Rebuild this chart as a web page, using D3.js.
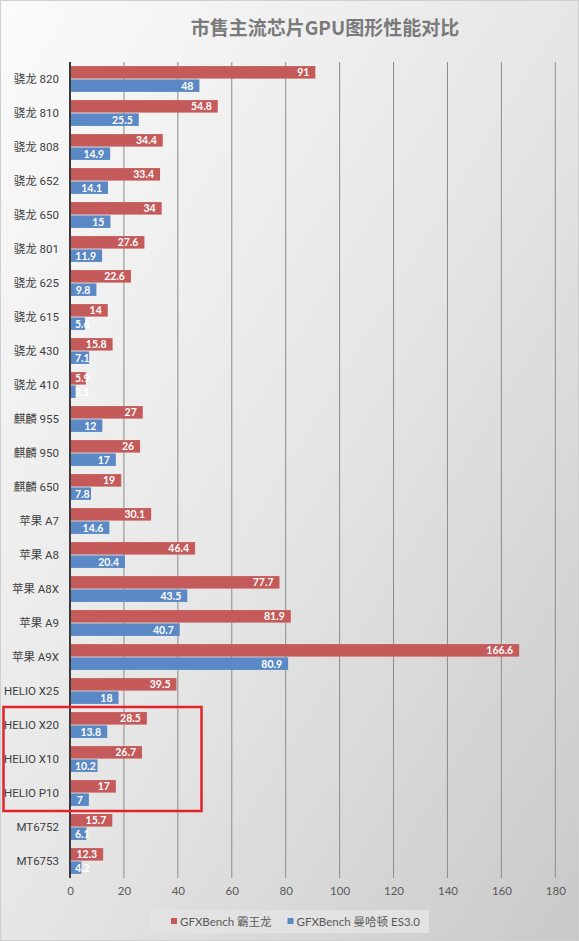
<!DOCTYPE html>
<html><head><meta charset="utf-8">
<script src="https://cdn.jsdelivr.net/npm/d3@7"></script>
<style>
html,body{margin:0;padding:0;background:#fff;}
svg{display:block;font-family:"Lato","Noto Sans CJK SC",sans-serif;}
</style></head>
<body><svg id="chart" width="579" height="941"></svg>
<script>
const title = "市售主流芯片GPU图形性能对比";
const categories = ["骁龙 820","骁龙 810","骁龙 808","骁龙 652","骁龙 650","骁龙 801","骁龙 625","骁龙 615","骁龙 430","骁龙 410","麒麟 955","麒麟 950","麒麟 650","苹果 A7","苹果 A8","苹果 A8X","苹果 A9","苹果 A9X","HELIO X25","HELIO X20","HELIO X10","HELIO P10","MT6752","MT6753"];
const trexValues = [91,54.8,34.4,33.4,34,27.6,22.6,14,15.8,5.9,27,26,19,30.1,46.4,77.7,81.9,166.6,39.5,28.5,26.7,17,15.7,12.3];
const manhattanValues = [48,25.5,14.9,14.1,15,11.9,9.8,5.6,7.1,2.1,12,17,7.8,14.6,20.4,43.5,40.7,80.9,18,13.8,10.2,7,6.1,4.2];
const seriesNames = ["GFXBench 霸王龙","GFXBench 曼哈顿 ES3.0"];
const xTicks = [0,20,40,60,80,100,120,140,160,180];
const highlighted = ["HELIO X20","HELIO X10","HELIO P10"];

const W = 579, H = 941;
const svg = d3.select("#chart");
const defs = svg.append("defs");
const grad = defs.append("linearGradient").attr("id","bg").attr("x1","0").attr("y1","0").attr("x2","1").attr("y2","1");
grad.append("stop").attr("offset","0%").attr("stop-color","#fbfbfb");
grad.append("stop").attr("offset","50%").attr("stop-color","#e6e6e6");
grad.append("stop").attr("offset","100%").attr("stop-color","#c9c9c9");
svg.append("rect").attr("x",0.5).attr("y",0.5).attr("width",W-1).attr("height",H-1)
  .attr("fill","url(#bg)").attr("stroke","#cfcfcf");

svg.append("text").attr("x",325).attr("y",35).attr("text-anchor","middle")
  .attr("font-size",19).attr("font-weight","bold").attr("fill","#7a7a7a")
  .attr("font-family","'Noto Sans CJK SC',sans-serif").text(title);

const x = d3.scaleLinear().domain([0,180]).range([70,555.3]);
const y = d3.scaleBand().domain(categories).range([62,878]).paddingInner(0.24).paddingOuter(0.12);
const sub = d3.scaleBand().domain([0,1]).range([0,y.bandwidth()]).paddingInner(0.06);

// gridlines
const grid = svg.append("g");
grid.selectAll("line").data(xTicks.filter(d=>d>0)).join("line")
  .attr("x1",d=>x(d)).attr("x2",d=>x(d)).attr("y1",62).attr("y2",878)
  .attr("stroke","#8c8c8c").attr("stroke-width",1);

// x axis labels
const xAxis = d3.axisBottom(x).tickValues(xTicks).tickSize(0).tickPadding(9);
const gx = svg.append("g").attr("transform","translate(0,878)").call(xAxis);
gx.select(".domain").remove();
gx.selectAll("text").attr("font-size",11.5).attr("fill","#595959").attr("font-family","'Lato',sans-serif");

const colors = ["#c55a5a","#5a89c5"];
const series = [trexValues, manhattanValues];
series.forEach((vals, si) => {
  const g = svg.append("g");
  g.selectAll("rect").data(categories).join("rect")
    .attr("x",x(0)).attr("y",(c)=>y(c)+sub(si))
    .attr("width",(c,i)=>x(vals[i])-x(0)).attr("height",sub.bandwidth())
    .attr("fill",colors[si]);
  g.selectAll("text").data(categories).join("text")
    .attr("y",(c)=>y(c)+sub(si)+sub.bandwidth()/2+4)
    .attr("font-size",10.5).attr("font-weight","bold").attr("fill","#ffffff")
    .attr("font-family","'Lato',sans-serif")
    .text((c,i)=>vals[i])
    .each(function(c,i){
      const w = this.getComputedTextLength();
      let xs = x(vals[i]) - 6 - w;
      if (xs < x(0) + 5) xs = x(0) + 5;
      d3.select(this).attr("x", xs);
    });
});

// y axis
const yAxis = d3.axisLeft(y).tickSize(0).tickPadding(11);
const gy = svg.append("g").attr("transform","translate(70,0)").call(yAxis);
gy.select(".domain").remove();
gy.selectAll("text").attr("font-size",11.5).attr("fill","#404040").attr("font-family","'Roboto','Noto Sans CJK SC',sans-serif");
svg.append("line").attr("x1",x(0)).attr("x2",x(0)).attr("y1",62).attr("y2",878)
  .attr("stroke","#3a3a3a").attr("stroke-width",2);

// highlight box
const hTop = y(highlighted[0]) - y.step()*y.paddingInner()/2 - 1;
const hBot = y(highlighted[highlighted.length-1]) + y.bandwidth() + y.step()*y.paddingInner()/2 + 1;
svg.append("rect").attr("x",3.5).attr("y",hTop).attr("width",198).attr("height",hBot-hTop)
  .attr("fill","none").attr("stroke","#e0242a").attr("stroke-width",2.5);

// legend
const lg = svg.append("g");
lg.append("rect").attr("x",150).attr("y",910).attr("width",279).attr("height",23).attr("fill","#e2e2e2");
const legendX = [171, 287.5];
seriesNames.forEach((n,i)=>{
  lg.append("rect").attr("x",legendX[i]).attr("y",918).attr("width",6).attr("height",6).attr("fill",colors[i]);
  lg.append("text").attr("x",legendX[i]+9).attr("y",925.5).attr("font-size",11.5).attr("fill","#595959")
    .attr("font-family","'Lato','Noto Sans CJK SC',sans-serif").text(n);
});
</script></body></html>
